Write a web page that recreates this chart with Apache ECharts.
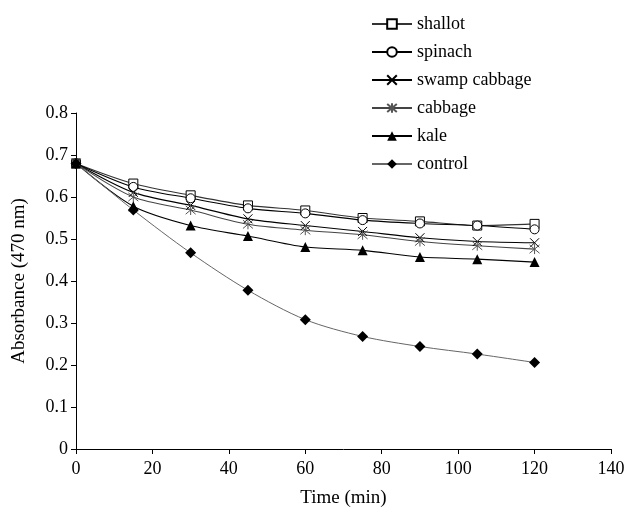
<!DOCTYPE html>
<html><head><meta charset="utf-8">
<script src="https://cdn.jsdelivr.net/npm/echarts@6/dist/echarts.min.js"></script>
<style>html,body{margin:0;padding:0;background:#fff}#c{width:629px;height:511px}</style>
</head><body><div id="c"></div>
<script>
var times = [0, 15, 30, 45, 60, 75, 90, 105, 120];
var shallot = [0.68, 0.632, 0.604, 0.580, 0.568, 0.550, 0.542, 0.532, 0.536];
var spinach = [0.68, 0.624, 0.597, 0.573, 0.561, 0.545, 0.537, 0.532, 0.523];
var swampCabbage = [0.68, 0.611, 0.580, 0.548, 0.532, 0.518, 0.503, 0.494, 0.491];
var cabbage = [0.68, 0.600, 0.569, 0.535, 0.521, 0.510, 0.494, 0.484, 0.476];
var kale = [0.68, 0.578, 0.532, 0.507, 0.481, 0.473, 0.457, 0.452, 0.445];
var control = [0.68, 0.569, 0.467, 0.378, 0.308, 0.268, 0.244, 0.226, 0.206];
var yTicks = [0, 0.1, 0.2, 0.3, 0.4, 0.5, 0.6, 0.7, 0.8];

function pairs(arr){ return times.map(function(t,i){ return [t, arr[i]]; }); }
var font = '"Liberation Serif","Times New Roman",serif';
var X_PATH = 'path://M0,0L10,10M10,0L0,10';
var STAR_PATH = 'path://M0,0L10,10M10,0L0,10M5,-1L5,11';

function mk(name, data, lineColor, lineWidth, symbol, size, itemStyle){
  return {
    name: name, type: 'line', data: pairs(data), smooth: 0.3,
    symbol: symbol, symbolSize: size, showSymbol: true,
    lineStyle: {color: lineColor, width: lineWidth},
    itemStyle: itemStyle, emphasis: {disabled: true}
  };
}
var chart = echarts.init(document.getElementById('c'), null, {renderer: 'canvas'});
chart.setOption({
  animation: false,
  backgroundColor: '#fff',
  grid: {left: 76, right: 18, top: 113, bottom: 62, containLabel: false, outerBoundsMode: 'none'},
  legend: {
    orient: 'vertical', left: 366, top: 10, itemWidth: 40, itemHeight: 12, itemGap: 10,
    textStyle: {fontFamily: font, fontSize: 18, color: '#000'},
    data: ['shallot','spinach','swamp cabbage','cabbage','kale','control']
  },
  xAxis: {
    type: 'value', min: 0, max: 140, interval: 20,
    name: 'Time (min)', nameLocation: 'middle', nameGap: 40,
    nameTextStyle: {fontFamily: font, fontSize: 19, color: '#000'},
    axisLine: {lineStyle: {color: '#000', width: 1}},
    axisTick: {show: true, inside: false, length: 5, lineStyle: {color: '#000'}},
    axisLabel: {fontFamily: font, fontSize: 18, color: '#000', margin: 11},
    splitLine: {show: false}
  },
  yAxis: {
    type: 'value', min: yTicks[0], max: yTicks[yTicks.length-1], interval: 0.1,
    name: 'Absorbance (470 nm)', nameLocation: 'middle', nameGap: 47, nameRotate: 90,
    nameTextStyle: {fontFamily: font, fontSize: 19, color: '#000'},
    axisLine: {show: true, lineStyle: {color: '#000', width: 1}},
    axisTick: {show: true, inside: false, length: 5, lineStyle: {color: '#000'}},
    axisLabel: {fontFamily: font, fontSize: 18, color: '#000', margin: 8},
    splitLine: {show: false}
  },
  series: [
    mk('shallot', shallot, '#333', 1.1, 'rect', 9, {color: '#fff', borderColor: '#000', borderWidth: 1}),
    mk('spinach', spinach, '#000', 1.1, 'circle', 9, {color: '#fff', borderColor: '#000', borderWidth: 1}),
    mk('swamp cabbage', swampCabbage, '#000', 1.1, X_PATH, 9, {color: 'none', borderColor: '#000', borderWidth: 1}),
    mk('cabbage', cabbage, '#444', 1.1, STAR_PATH, 10, {color: 'none', borderColor: '#555', borderWidth: 1}),
    mk('kale', kale, '#000', 1.1, 'triangle', 10, {color: '#000', borderColor: '#000', borderWidth: 0}),
    mk('control', control, '#666', 1, 'diamond', 11, {color: '#000', borderColor: '#000', borderWidth: 0})
  ]
});
</script></body></html>
